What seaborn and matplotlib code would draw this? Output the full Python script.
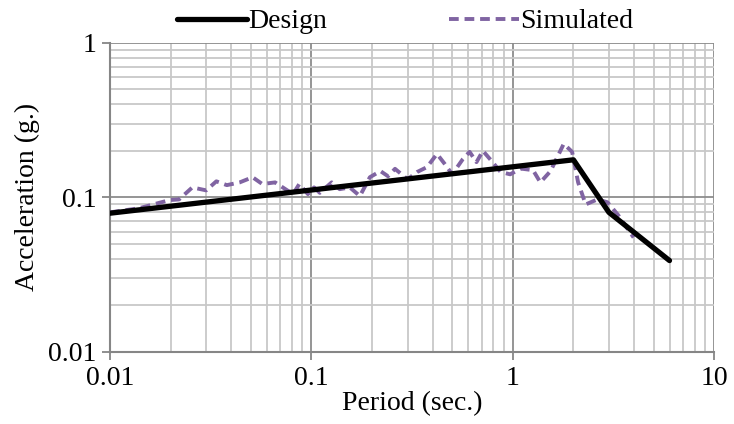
import matplotlib
matplotlib.use("Agg")
import matplotlib.pyplot as plt
import seaborn as sns
import pandas as pd
from matplotlib.ticker import FixedLocator, FixedFormatter, LogLocator, NullFormatter

# design spectrum
design_period = [0.01, 2.0, 3.0, 6.0]
design_acc = [0.079, 0.175, 0.080, 0.039]

# simulated spectrum
sim_period = [0.010, 0.0139, 0.0197, 0.022, 0.0256, 0.030, 0.0337, 0.038, 0.044, 0.051,
              0.057, 0.066, 0.072, 0.081, 0.087, 0.096, 0.103, 0.110, 0.126, 0.138,
              0.155, 0.174, 0.195, 0.22, 0.24, 0.26, 0.30, 0.335, 0.375, 0.42,
              0.46, 0.50, 0.565, 0.61, 0.66, 0.71, 0.77, 0.87, 0.97, 1.09,
              1.12, 1.26, 1.37, 1.54, 1.79, 1.97, 2.11, 2.30, 2.63, 2.95,
              3.33, 3.64, 3.98]
sim_acc = [0.080, 0.085, 0.096, 0.097, 0.116, 0.111, 0.127, 0.120, 0.125, 0.135,
           0.122, 0.125, 0.116, 0.105, 0.122, 0.105, 0.116, 0.107, 0.125, 0.113,
           0.116, 0.102, 0.135, 0.148, 0.137, 0.153, 0.131, 0.146, 0.157, 0.191,
           0.164, 0.141, 0.177, 0.197, 0.169, 0.200, 0.177, 0.146, 0.141, 0.153,
           0.153, 0.150, 0.125, 0.148, 0.222, 0.197, 0.125, 0.090, 0.097, 0.093,
           0.077, 0.065, 0.055]

x_ticks = [0.01, 0.1, 1, 10]
x_labels = ["0.01", "0.1", "1", "10"]
y_ticks = [0.01, 0.1, 1]
y_labels = ["0.01", "0.1", "1"]

df_design = pd.DataFrame({"Period": design_period, "Acc": design_acc})
df_sim = pd.DataFrame({"Period": sim_period, "Acc": sim_acc})

sns.set_style("white")
plt.rcParams["font.family"] = ["Liberation Serif", "DejaVu Serif"]
plt.rcParams["text.color"] = "black"
plt.rcParams["axes.labelcolor"] = "black"
plt.rcParams["xtick.labelcolor"] = "black"
plt.rcParams["ytick.labelcolor"] = "black"

fig = plt.figure(figsize=(7.34, 4.24), dpi=100)
ax = fig.add_axes([0.150, 0.170, 0.823, 0.729])

ax.set_xscale("log")
ax.set_yscale("log")
ax.set_xlim(0.01, 10)
ax.set_ylim(0.01, 1)

sns.lineplot(data=df_sim, x="Period", y="Acc", ax=ax, color="#8064A2", lw=2.8,
             dashes=False, label="Simulated", zorder=3)
ax.lines[-1].set_dashes((2.5, 1.5))
sns.lineplot(data=df_design, x="Period", y="Acc", ax=ax, color="black", lw=3.8,
             label="Design", zorder=4)

ax.xaxis.set_major_locator(FixedLocator(x_ticks))
ax.xaxis.set_major_formatter(FixedFormatter(x_labels))
ax.yaxis.set_major_locator(FixedLocator(y_ticks))
ax.yaxis.set_major_formatter(FixedFormatter(y_labels))
ax.xaxis.set_minor_locator(LogLocator(base=10, subs=range(2, 10)))
ax.yaxis.set_minor_locator(LogLocator(base=10, subs=range(2, 10)))
ax.xaxis.set_minor_formatter(NullFormatter())
ax.yaxis.set_minor_formatter(NullFormatter())

ax.grid(which="major", color="#8c8c8c", lw=1.3)
ax.grid(which="minor", color="#c8c8c8", lw=1.3)
ax.set_axisbelow(True)

ax.tick_params(which="major", direction="out", length=6, width=1.3, color="#868686",
               labelsize=20, pad=4, bottom=True, left=True)
ax.tick_params(which="minor", length=0)

for s in ["left", "bottom"]:
    ax.spines[s].set_color("#868686")
    ax.spines[s].set_linewidth(1.5)
for s in ["top", "right"]:
    ax.spines[s].set_visible(False)

ax.set_xlabel("Period (sec.)", fontsize=20, labelpad=0)
ax.set_ylabel("Acceleration (g.)", fontsize=20, labelpad=6)

ax.get_legend().remove()
h, l = ax.get_legend_handles_labels()
order = [l.index("Design"), l.index("Simulated")]
fig.legend([h[i] for i in order], [l[i] for i in order], loc="upper center",
           bbox_to_anchor=(0.552, 1.038), ncol=2, frameon=False, fontsize=20,
           handlelength=2.5, handletextpad=0.05, columnspacing=4.4)

fig.savefig("out.png", dpi=100)
